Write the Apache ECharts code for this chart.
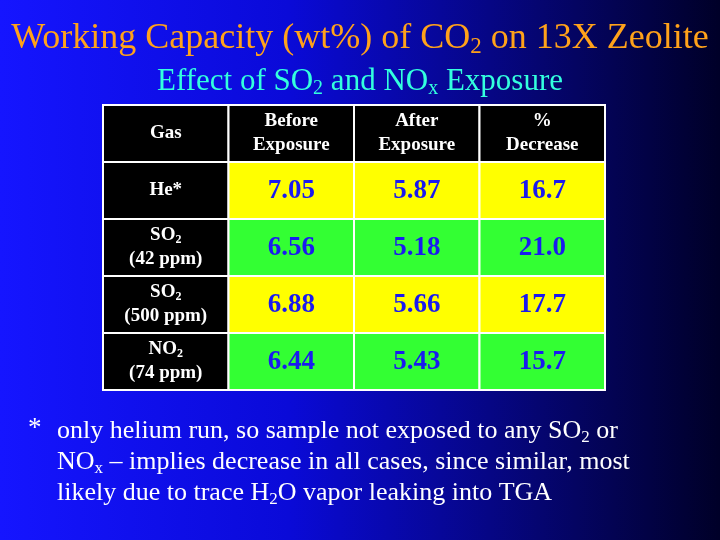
<!DOCTYPE html>
<html><head><meta charset="utf-8">
<script src="https://cdn.jsdelivr.net/npm/echarts@6/dist/echarts.min.js"></script>
<style>html,body{margin:0;padding:0;}#c{width:720px;height:540px;background:linear-gradient(90deg,#1515ff 0%,#0a0ad8 40%,#050570 75%,#000028 100%);}</style>
</head><body><div id="c"></div>
<script>
const columns = ['Gas', 'Before\nExposure', 'After\nExposure', '%\nDecrease'];
const rowLabels = ['He*', 'SO{s|2}\n(42 ppm)', 'SO{s|2}\n(500 ppm)', 'NO{s|2}\n(74 ppm)'];
const beforeVals = [7.05, 6.56, 6.88, 6.44];
const afterVals = [5.87, 5.18, 5.66, 5.43];
const decreaseVals = [16.7, 21.0, 17.7, 15.7];
const rowColors = ['#ffff00', '#33ff33', '#ffff00', '#33ff33'];

const yCats = ['h', 'r0', 'r1', 'r2', 'r3'];
const cells = [];
columns.forEach((c, i) => cells.push([i, 0, c, 'head']));
rowLabels.forEach((r, j) => {
  cells.push([0, j + 1, r, 'head']);
  cells.push([1, j + 1, beforeVals[j].toFixed(2), 'val', j]);
  cells.push([2, j + 1, afterVals[j].toFixed(2), 'val', j]);
  cells.push([3, j + 1, decreaseVals[j].toFixed(1), 'val', j]);
});
const serif = '"Liberation Serif","DejaVu Serif",serif';
const chart = echarts.init(document.getElementById('c'));
chart.setOption({
  backgroundColor: 'transparent',
  title: [
    {text: 'Working Capacity (wt%) of CO{s|2} on 13X Zeolite', left: 'center', top: 14,
     textStyle: {color: '#ffa21a', fontFamily: serif, fontSize: 36, fontWeight: 'normal',
       rich: {s: {fontSize: 23, padding: [16, 0, 0, 0], color: '#ffa21a', fontFamily: serif}}}},
    {text: 'Effect of SO{s|2} and NO{s|x} Exposure', left: 'center', top: 60,
     textStyle: {color: '#33ffdd', fontFamily: serif, fontSize: 31, fontWeight: 'normal',
       rich: {s: {fontSize: 20, padding: [14, 0, 0, 0], color: '#33ffdd', fontFamily: serif}}}}
  ],
  grid: {left: 103, right: 115, top: 105, bottom: 150},
  xAxis: {type: 'category', data: columns, show: false},
  yAxis: {type: 'category', data: yCats, inverse: true, show: false},
  series: [{
    type: 'custom',
    data: cells,
    renderItem: function (params, api) {
      const x = api.value(0), y = api.value(1);
      const p = api.coord([x, y]);
      const sz = api.size([1, 1]);
      const d = cells[params.dataIndex];
      const isHead = d[3] === 'head';
      const fill = isHead ? '#000000' : rowColors[d[4]];
      return {type: 'group', children: [
        {type: 'rect', shape: {x: p[0] - sz[0] / 2, y: p[1] - sz[1] / 2, width: sz[0], height: sz[1]},
         style: {fill: fill, stroke: '#ffffff', lineWidth: 2}},
        {type: 'text', x: p[0], y: p[1] + (isHead ? 0 : 1),
         style: {text: d[2], align: 'center', verticalAlign: 'middle',
           fill: isHead ? '#ffffff' : '#1a1af0', fontFamily: serif, fontWeight: 'bold',
           fontSize: isHead ? 19 : 27, lineHeight: isHead ? 24 : 30,
           rich: {s: {fontSize: 12, fontWeight: 'bold', fill: '#ffffff', padding: [9, 0, 0, 0], fontFamily: serif}}}}
      ]};
    }
  }],
  graphic: [
    {type: 'text', left: 28, top: 415, style: {text: '*', fill: '#fff', font: '27px ' + serif}},
    {type: 'text', left: 57, top: 416, style: {
      text: 'only helium run, so sample not exposed to any SO{s|2} or\nNO{s|x} – implies decrease in all cases, since similar, most\nlikely due to trace H{s|2}O vapor leaking into TGA',
      fill: '#ffffff', fontFamily: serif, fontSize: 26, lineHeight: 31,
      rich: {s: {fontSize: 17, fill: '#fff', fontFamily: serif, padding: [12, 0, 0, 0]}}}}
  ]
});
</script></body></html>
